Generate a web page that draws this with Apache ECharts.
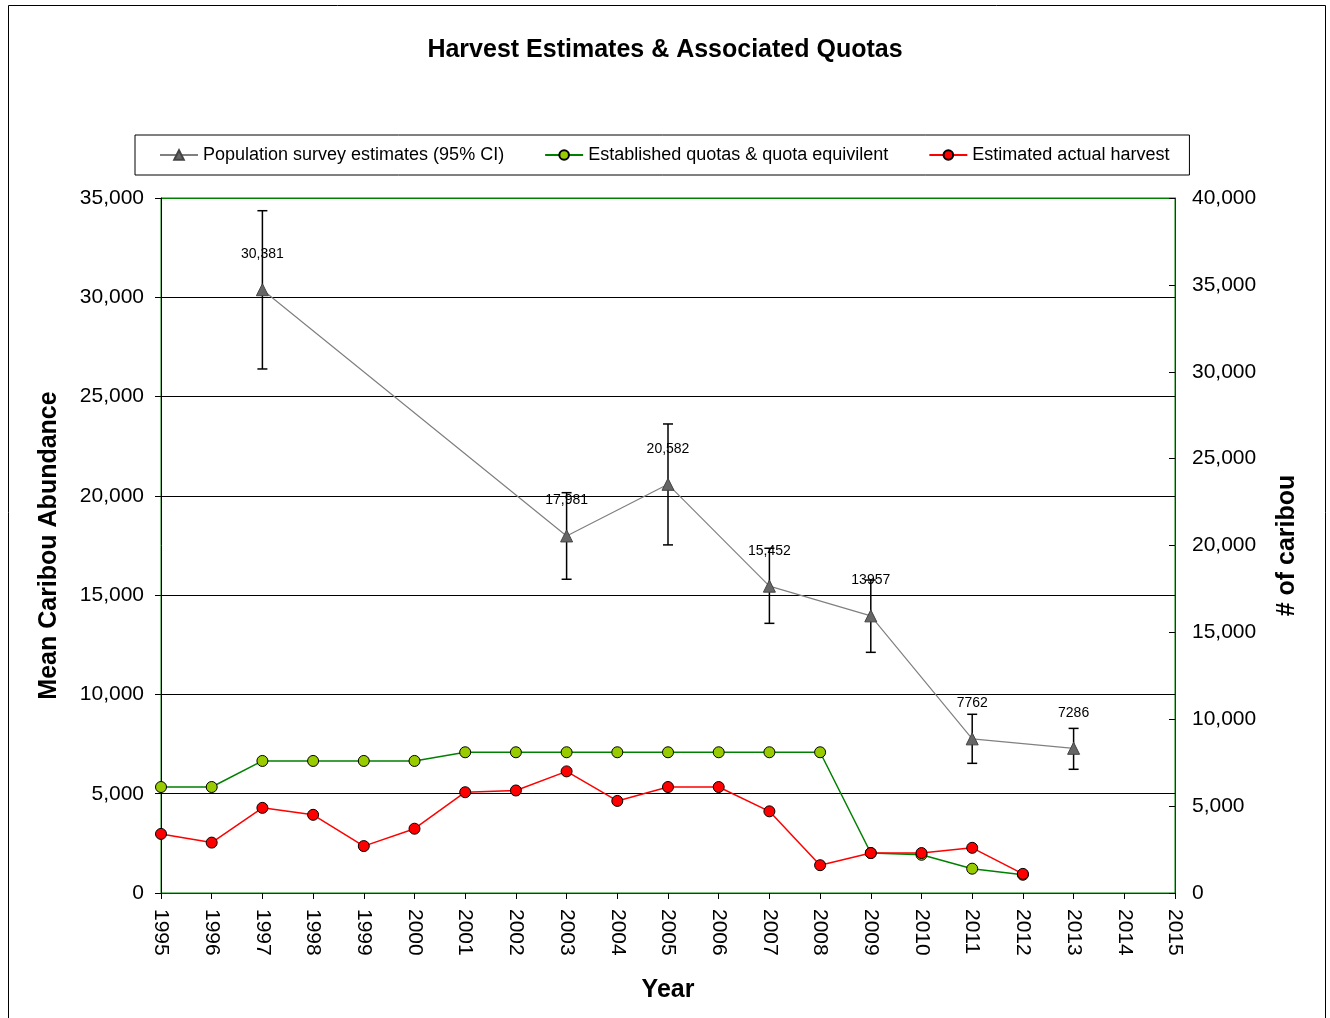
<!DOCTYPE html>
<html lang="en">
<head>
  <meta charset="utf-8">
  <title>Harvest Estimates & Associated Quotas</title>
  <script src="https://cdn.jsdelivr.net/npm/echarts@6/dist/echarts.min.js"></script>
  <style>
    html, body { margin: 0; padding: 0; background: #fff; }
    #main { width: 1330px; height: 1018px; }
  </style>
</head>
<body>
  <div id="main"></div>
  <script type="text/javascript">
// population surveys (left axis)
var popYears = [1997, 2003, 2005, 2007, 2009, 2011, 2013];
var popMean = [30381, 17981, 20582, 15452, 13957, 7762, 7286];
var popLabels = ['30,381', '17,981', '20,582', '15,452', '13957', '7762', '7286'];
var popLow = [26390, 15800, 17530, 13580, 12120, 6530, 6230];
var popHigh = [34360, 20160, 23620, 17360, 15760, 9000, 8290];

// harvest (right axis)
var harvestYears = [1995, 1996, 1997, 1998, 1999, 2000, 2001, 2002, 2003, 2004, 2005, 2006, 2007, 2008, 2009, 2010, 2011, 2012];
var quota = [6100, 6100, 7600, 7600, 7600, 7600, 8100, 8100, 8100, 8100, 8100, 8100, 8100, 8100, 2300, 2200, 1400, 1050];
var harvest = [3400, 2900, 4900, 4500, 2700, 3700, 5800, 5900, 7000, 5300, 6100, 6100, 4700, 1600, 2300, 2300, 2600, 1100];

var font = '"Liberation Sans", Arial, sans-serif';

var popData = popYears.map(function (y, i) { return [y, popMean[i]]; });
var ciData = popYears.map(function (y, i) { return [y, popLow[i], popHigh[i]]; });
var quotaData = harvestYears.map(function (y, i) { return [y, quota[i]]; });
var harvestData = harvestYears.map(function (y, i) { return [y, harvest[i]]; });

var chart = echarts.init(document.getElementById('main'));

var option = {
  animation: false,
  backgroundColor: '#fff',
  textStyle: { fontFamily: font },
  graphic: [{
    type: 'rect',
    z: -10,
    shape: { x: 8.5, y: 5.5, width: 1317, height: 1030 },
    style: { fill: 'none', stroke: '#000', lineWidth: 1 }
  }],
  title: {
    text: 'Harvest Estimates & Associated Quotas',
    left: 'center',
    top: 33,
    textStyle: { fontFamily: font, fontSize: 25, fontWeight: 'bold', color: '#000' }
  },
  legend: {
    left: 135,
    top: 135,
    padding: [11, 20, 11, 24],
    itemGap: 40,
    itemWidth: 38,
    itemHeight: 12,
    borderColor: '#000',
    borderWidth: 1,
    textStyle: { fontFamily: font, fontSize: 18, color: '#000' },
    data: ['Population survey estimates (95% CI)', 'Established quotas & quota equivilent', 'Estimated actual harvest']
  },
  grid: {
    left: 161, right: 155, top: 198, bottom: 125,
    show: true, borderColor: '#008000', borderWidth: 1
  },
  xAxis: {
    type: 'value',
    min: 1995, max: 2015, interval: 1,
    name: 'Year',
    nameLocation: 'middle',
    nameGap: 85,
    nameTextStyle: { fontFamily: font, fontSize: 25, fontWeight: 'bold', color: '#000' },
    axisLine: { lineStyle: { color: '#1a3d1a', width: 1 } },
    axisTick: { length: 6, lineStyle: { color: '#000' } },
    splitLine: { show: false },
    axisLabel: {
      rotate: -90, margin: 16, color: '#000', fontSize: 21, fontFamily: font,
      formatter: function (v) { return String(v); }
    }
  },
  yAxis: [{
    type: 'value',
    min: 0, max: 35000, interval: 5000,
    name: 'Mean Caribou Abundance',
    nameLocation: 'middle',
    nameGap: 99,
    nameTextStyle: { fontFamily: font, fontSize: 25, fontWeight: 'bold', color: '#000' },
    axisLine: { show: true, lineStyle: { color: '#000' } },
    axisTick: { show: true, length: 6, lineStyle: { color: '#000' } },
    axisLabel: {
      color: '#000', fontSize: 21, fontFamily: font, margin: 17,
      formatter: function (v) { return v.toLocaleString('en-US'); }
    },
    splitLine: { show: true, lineStyle: { color: ['#000', '#000', '#000', '#000', '#000', '#000', '#000', '#008000'], width: 1 } }
  }, {
    type: 'value',
    min: 0, max: 40000, interval: 5000,
    name: '# of caribou',
    nameLocation: 'middle',
    nameGap: 100,
    nameTextStyle: { fontFamily: font, fontSize: 25, fontWeight: 'bold', color: '#000' },
    axisLine: { show: true, lineStyle: { color: '#1a3d1a' } },
    axisTick: { show: true, length: 6, inside: true, lineStyle: { color: '#000' } },
    axisLabel: {
      color: '#000', fontSize: 21, fontFamily: font, margin: 17,
      formatter: function (v) { return v.toLocaleString('en-US'); }
    },
    splitLine: { show: false }
  }],
  series: [{
    name: 'Population survey estimates (95% CI)',
    type: 'line',
    yAxisIndex: 0,
    data: popData,
    symbol: 'triangle',
    symbolSize: 12,
    z: 4,
    lineStyle: { color: '#808080', width: 1.2 },
    itemStyle: { color: '#666666', borderColor: '#444', borderWidth: 1 },
    label: {
      show: true, position: 'top', distance: 22,
      fontSize: 14, fontFamily: font, color: '#000',
      formatter: function (p) { return popLabels[p.dataIndex]; }
    }
  }, {
    name: 'CI',
    type: 'custom',
    yAxisIndex: 0,
    z: 3,
    data: ciData,
    encode: { x: 0, y: [1, 2] },
    renderItem: function (params, api) {
      var x = api.value(0);
      var lo = api.coord([x, api.value(1)]);
      var hi = api.coord([x, api.value(2)]);
      var w = 5;
      var st = { stroke: '#000', lineWidth: 1.5 };
      return {
        type: 'group',
        children: [
          { type: 'line', shape: { x1: lo[0], y1: lo[1], x2: hi[0], y2: hi[1] }, style: st },
          { type: 'line', shape: { x1: lo[0] - w, y1: lo[1], x2: lo[0] + w, y2: lo[1] }, style: st },
          { type: 'line', shape: { x1: hi[0] - w, y1: hi[1], x2: hi[0] + w, y2: hi[1] }, style: st }
        ]
      };
    }
  }, {
    name: 'Established quotas & quota equivilent',
    type: 'line',
    yAxisIndex: 1,
    data: quotaData,
    symbol: 'circle',
    symbolSize: 11,
    z: 5,
    lineStyle: { color: '#008000', width: 1.5 },
    itemStyle: { color: '#99cc00', borderColor: '#000', borderWidth: 1 }
  }, {
    name: 'Estimated actual harvest',
    type: 'line',
    yAxisIndex: 1,
    data: harvestData,
    symbol: 'circle',
    symbolSize: 11,
    z: 6,
    lineStyle: { color: '#ff0000', width: 1.5 },
    itemStyle: { color: '#ff0000', borderColor: '#000', borderWidth: 1 }
  }]
};

chart.setOption(option);
  </script>
</body>
</html>
